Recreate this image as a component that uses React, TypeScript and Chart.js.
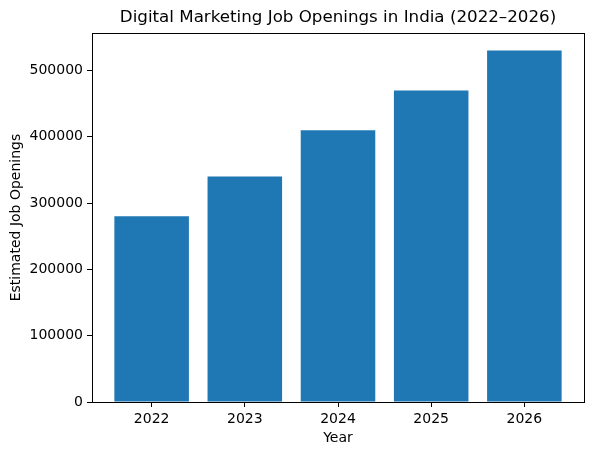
import React, { useEffect, useRef } from "react";
import { Chart, registerables } from "chart.js";

Chart.register(...registerables);

const years = [2022, 2023, 2024, 2025, 2026];
const openings = [280000, 340000, 410000, 470000, 530000];
const yTicks = [0, 100000, 200000, 300000, 400000, 500000];
const titleText = "Digital Marketing Job Openings in India (2022–2026)";
const xTitle = "Year";
const yTitle = "Estimated Job Openings";

const FONT = "'DejaVu Sans', sans-serif";

const framePlugin = {
  id: "frame",
  afterDraw(chart: any) {
    const { ctx, chartArea } = chart;
    ctx.save();
    ctx.strokeStyle = "#000";
    ctx.lineWidth = 1;
    ctx.strokeRect(
      Math.round(chartArea.left) + 0.5,
      Math.round(chartArea.top) + 0.5,
      Math.round(chartArea.right - chartArea.left),
      Math.round(chartArea.bottom - chartArea.top)
    );
    ctx.restore();
  },
};

export default function App() {
  const ref = useRef<HTMLCanvasElement>(null);
  useEffect(() => {
    document.body.style.margin = "0";
    const canvas = ref.current!;
    const chart = new Chart(canvas, {
      type: "bar",
      data: {
        datasets: [
          {
            data: years.map((y, i) => ({ x: y, y: openings[i] })),
            backgroundColor: "#1f77b4",
            borderColor: "#1f77b4",
            borderWidth: 0,
            inflateAmount: 0,
            categoryPercentage: 1,
            barPercentage: 0.8,
          },
        ],
      },
      plugins: [framePlugin],
      options: {
        responsive: false,
        animation: false,
        layout: { padding: { left: 0, right: 13, top: 0, bottom: 0 } },
        plugins: {
          legend: { display: false },
          tooltip: { enabled: false },
          title: {
            display: true,
            fullSize: false,
            text: titleText,
            color: "#000",
            font: { family: FONT, size: 16.7, weight: "normal" },
            padding: { top: 8, bottom: 5 },
          },
        },
        scales: {
          x: {
            type: "linear",
            offset: false,
            min: years[0] - 0.64,
            max: years[years.length - 1] + 0.64,
            afterBuildTicks: (axis: any) => {
              axis.ticks = years.map((v) => ({ value: v }));
            },
            afterFit: (axis: any) => {
              axis.height = 53;
            },
            ticks: {
              color: "#000",
              font: { family: FONT, size: 14 },
              padding: 4,
              maxRotation: 0,
              callback: (v: any) => String(v),
            },
            grid: {
              offset: false,
              drawOnChartArea: false,
              drawTicks: true,
              tickLength: 5,
              color: "#000",
            },
            border: { display: true, color: "#000" },
            title: {
              display: true,
              text: xTitle,
              color: "#000",
              font: { family: FONT, size: 14 },
              padding: { top: 0, bottom: 8 },
            },
          },
          y: {
            type: "linear",
            min: 0,
            max: 556500,
            afterBuildTicks: (axis: any) => {
              axis.ticks = yTicks.map((v) => ({ value: v }));
            },
            afterFit: (axis: any) => {
              axis.width = 92;
            },
            ticks: {
              color: "#000",
              font: { family: FONT, size: 14 },
              padding: 4,
              callback: (v: any) => String(v),
            },
            grid: {
              drawOnChartArea: false,
              drawTicks: true,
              tickLength: 5,
              color: "#000",
            },
            border: { display: true, color: "#000" },
            title: {
              display: true,
              text: yTitle,
              color: "#000",
              font: { family: FONT, size: 14 },
              padding: { top: 8, bottom: 0 },
            },
          },
        },
      },
    } as any);
    return () => chart.destroy();
  }, []);
  return (
    <div style={{ width: 597, height: 455 }}>
      <canvas ref={ref} width={597} height={455} style={{ display: "block" }} />
    </div>
  );
}
